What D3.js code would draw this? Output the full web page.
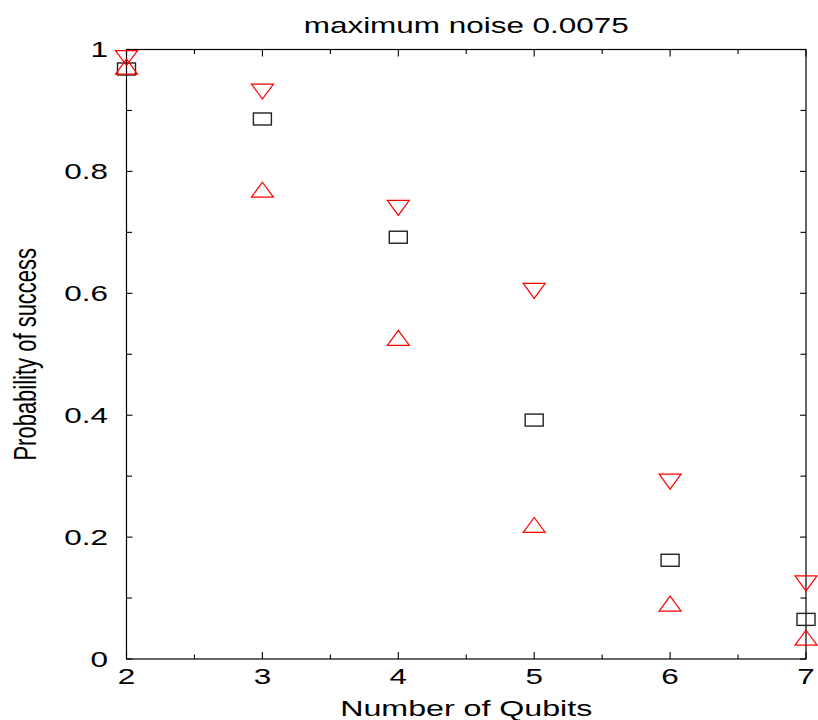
<!DOCTYPE html>
<html>
<head>
<meta charset="utf-8">
<script src="https://cdn.jsdelivr.net/npm/d3@7"></script>
<style>
  html, body { margin: 0; padding: 0; background: #fff; }
  svg { display: block; }
  text { font-family: "Liberation Sans", Arial, Helvetica, sans-serif; fill: #000; }
</style>
</head>
<body>
<svg id="chart" width="818" height="720"></svg>
<script>
// ---- data ----
const qubits = [2, 3, 4, 5, 6, 7];
const meanSuccess = [0.968, 0.886, 0.692, 0.392, 0.162, 0.065];   // squares
const upperSuccess = [0.986, 0.931, 0.740, 0.604, 0.291, 0.124];  // down triangles
const lowerSuccess = [0.972, 0.770, 0.527, 0.220, 0.091, 0.035];  // up triangles
const xMajorTicks = [2, 3, 4, 5, 6, 7];
const xMinorTicks = [2.5, 3.5, 4.5, 5.5, 6.5];
const yMajorTicks = [0, 0.2, 0.4, 0.6, 0.8, 1];
const yMinorTicks = [0.1, 0.3, 0.5, 0.7, 0.9];
const yTickLabels = ["0", "0.2", "0.4", "0.6", "0.8", "1"];
const titleText = "maximum noise 0.0075";
const xLabelText = "Number of Qubits";
const yLabelText = "Probability of success";

// ---- layout ----
const L = 126.5, R = 806, T = 49.5, B = 659;
const SX = 1.43; // horizontal stretch of the original rendering
const svg = d3.select("#chart");
const x = d3.scaleLinear().domain([2, 7]).range([L, R]);
const y = d3.scaleLinear().domain([0, 1]).range([B, T]);

// frame
svg.append("rect").attr("x", L).attr("y", T).attr("width", R - L).attr("height", B - T)
  .attr("fill", "none").attr("stroke", "#000").attr("stroke-width", 1.2);

const tk = svg.append("g").attr("stroke", "#000").attr("stroke-width", 1.1);
function xTicks(vals, len) {
  vals.forEach(v => {
    tk.append("line").attr("x1", x(v)).attr("x2", x(v)).attr("y1", B).attr("y2", B - len);
    tk.append("line").attr("x1", x(v)).attr("x2", x(v)).attr("y1", T).attr("y2", T + len);
  });
}
function yTicks(vals, len) {
  vals.forEach(v => {
    tk.append("line").attr("y1", y(v)).attr("y2", y(v)).attr("x1", L).attr("x2", L + len);
    tk.append("line").attr("y1", y(v)).attr("y2", y(v)).attr("x1", R).attr("x2", R - len);
  });
}
xTicks(xMajorTicks, 7);
xTicks(xMinorTicks, 4.5);
yTicks(yMajorTicks, 6);
yTicks(yMinorTicks, 5.5);

// tick labels
const fs = 22;
xMajorTicks.forEach(v => {
  svg.append("text")
    .attr("transform", `translate(${x(v)},684) scale(${SX},1)`)
    .attr("text-anchor", "middle").attr("font-size", fs).text(String(v));
});
yMajorTicks.forEach((v, i) => {
  svg.append("text")
    .attr("transform", `translate(108,${y(v)}) scale(${SX},1)`)
    .attr("text-anchor", "end").attr("dominant-baseline", "central")
    .attr("font-size", fs).text(yTickLabels[i]);
});

// title and axis labels
svg.append("text")
  .attr("transform", `translate(${(L + R) / 2},33) scale(${SX},1)`)
  .attr("text-anchor", "middle").attr("font-size", fs).text(titleText);
svg.append("text")
  .attr("transform", `translate(${(L + R) / 2},716) scale(${SX},1)`)
  .attr("text-anchor", "middle").attr("font-size", fs + 0.5).text(xLabelText);
svg.append("text")
  .attr("transform", `translate(36,${(T + B) / 2}) scale(${SX},1) rotate(-90)`)
  .attr("text-anchor", "middle").attr("font-size", fs).text(yLabelText);

// markers
const hw = 11, hh = 7.5;
const downTri = `M${-hw},${-hh}L${hw},${-hh}L0,${hh}Z`;
const upTri = `M${-hw},${hh}L${hw},${hh}L0,${-hh}Z`;

svg.append("g").selectAll("rect").data(qubits).join("rect")
  .attr("x", d => x(d) - 9).attr("y", (d, i) => y(meanSuccess[i]) - 6)
  .attr("width", 18).attr("height", 12)
  .attr("fill", "none").attr("stroke", "#222").attr("stroke-width", 1.4);

svg.append("g").selectAll("path").data(qubits).join("path")
  .attr("d", downTri)
  .attr("transform", (d, i) => `translate(${x(d)},${y(upperSuccess[i])})`)
  .attr("fill", "none").attr("stroke", "#ff0000").attr("stroke-width", 1.2);

svg.append("g").selectAll("path").data(qubits).join("path")
  .attr("d", upTri)
  .attr("transform", (d, i) => `translate(${x(d)},${y(lowerSuccess[i])})`)
  .attr("fill", "none").attr("stroke", "#ff0000").attr("stroke-width", 1.2);
</script>
</body>
</html>
